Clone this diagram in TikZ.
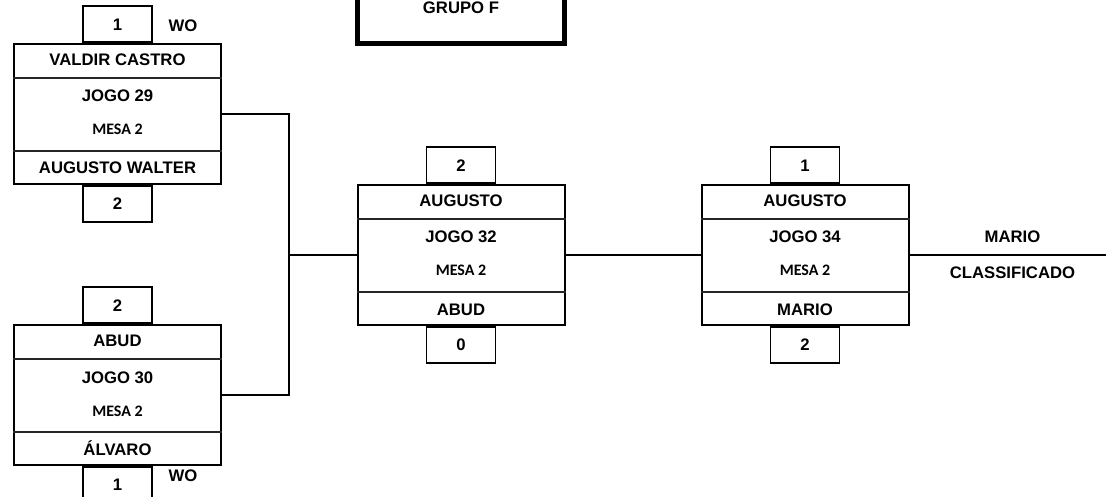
\documentclass[tikz,border=0pt]{standalone}
\usepackage{fontspec}
\setmainfont{Liberation Sans}
\newfontfamily\calib{Carlito}
\tikzset{
  every node/.style={font=\bfseries\fontsize{16.7}{18}\selectfont, text height=12pt, text depth=0pt, inner sep=0pt},
  gbox/.style={draw, line width=2pt, minimum width=207pt, minimum height=140pt, inner sep=0pt},
  score/.style={draw, line width=1.6pt, minimum width=69pt, minimum height=36pt},
  divider/.style={line width=1.2pt, black!85},
  conn/.style={line width=2pt},
  mesa/.style={font=\calib\bfseries\fontsize{16}{18}\selectfont, text height=10pt},
  grupobox/.style={draw, line width=5pt, minimum width=207pt, minimum height=63.5pt},
}
\newcommand\gamebox[8]{%
  \node[gbox] (#1) at ({#2+103.5},{#3+70}) {};
  \draw[divider] ([yshift=-35pt]#1.north west) -- ([yshift=-35pt]#1.north east);
  \draw[divider] ([yshift=34pt]#1.south west) -- ([yshift=34pt]#1.south east);
  \node (#1-p1) at ([yshift=-16.5pt]#1.north) {#4};
  \node (#1-j) at ([yshift=-53pt]#1.north) {#5};
  \node[mesa] (#1-m) at ([yshift=-87pt]#1.north) {MESA 2};
  \node (#1-p2) at ([yshift=17pt]#1.south) {#6};
  \node[score, anchor=south] (#1-s1) at (#1.north) {#7};
  \node[score, anchor=north] (#1-s2) at (#1.south) {#8};
}
\begin{document}
\begin{tikzpicture}[x=1pt, y=-1pt]
  \useasboundingbox (0,0) rectangle (1106,497);
  \fill[white] (0,0) rectangle (1106,497);
  \clip (0,0) rectangle (1106,497);

  % group title
  \node[grupobox] (grupo) at (461,11.75) {};
  \node (grupo-t) at (461,7.5) {GRUPO F};

  % games
  \gamebox{g29}{14}{44}{VALDIR CASTRO}{JOGO 29}{AUGUSTO WALTER}{1}{2}
  \gamebox{g30}{14}{325}{ABUD}{JOGO 30}{ÁLVARO}{2}{1}
  \gamebox{g32}{357.5}{185}{AUGUSTO}{JOGO 32}{ABUD}{2}{0}
  \gamebox{g34}{701.5}{185}{AUGUSTO}{JOGO 34}{MARIO}{1}{2}

  % WO labels
  \node (wo1) at (183,26) {WO};
  \node (wo2) at (183,475) {WO};

  % connectors
  \coordinate (j1) at (289,255);
  \coordinate (out) at (1106,255);
  \draw[conn] (g29.east) -| (j1) |- (g30.east);
  \draw[conn] (j1) -- (g32.west);
  \draw[conn] (g32.east) -- (g34.west);
  \draw[conn] (g34.east) -- (out);

  % result
  \node (res1) at (1012.5,237) {MARIO};
  \node (res2) at (1012.5,273) {CLASSIFICADO};
\end{tikzpicture}
\end{document}
